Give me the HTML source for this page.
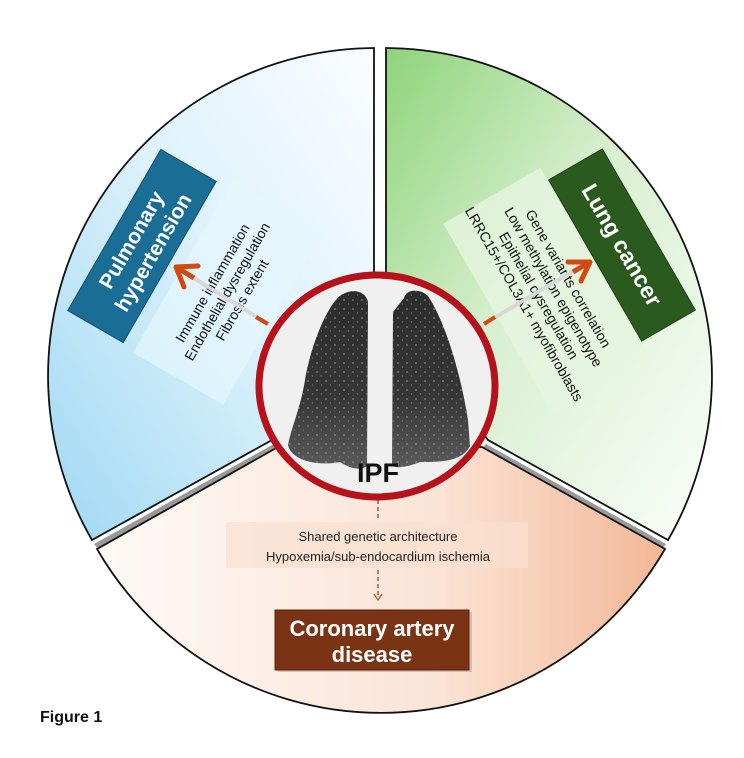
<!DOCTYPE html>
<html><head><meta charset="utf-8"><style>
html,body{margin:0;padding:0;background:#fff;width:744px;height:758px;overflow:hidden}
svg{display:block}
</style></head><body>
<svg width="744" height="758" viewBox="0 0 744 758" xmlns="http://www.w3.org/2000/svg">
<defs>
<linearGradient id="gb" x1="1" y1="0" x2="0" y2="1">
<stop offset="0" stop-color="#fbfdff"/><stop offset="0.45" stop-color="#def2fb"/><stop offset="1" stop-color="#9fd8f3"/></linearGradient>
<linearGradient id="gg" x1="0" y1="0" x2="1" y2="1">
<stop offset="0" stop-color="#8ed47a"/><stop offset="0.45" stop-color="#d8efd0"/><stop offset="1" stop-color="#fbfefa"/></linearGradient>
<linearGradient id="go" x1="0" y1="0" x2="1" y2="0">
<stop offset="0" stop-color="#fefaf7"/><stop offset="0.6" stop-color="#fbe3d6"/><stop offset="1" stop-color="#f3b796"/></linearGradient>
<linearGradient id="lung" x1="0" y1="0" x2="0" y2="1">
<stop offset="0" stop-color="#2c2c2c"/><stop offset="0.6" stop-color="#363636"/><stop offset="1" stop-color="#5a5a5a"/></linearGradient>
<pattern id="spk" width="9" height="9" patternUnits="userSpaceOnUse">
<circle cx="2" cy="3" r="0.9" fill="#bbb"/><circle cx="6.5" cy="7" r="0.7" fill="#999"/></pattern>
</defs>
<!-- shadows -->
<path d="M94,544 L274,444 L280,450 L99,550 Z" fill="#999"/>
<path d="M666,544 L486,444 L480,450 L661,550 Z" fill="#999"/>
<path d="M374,48 A328,328 0 0 0 92,540 L272,440 L374,300 Z" fill="url(#gb)" stroke="#111" stroke-width="1.8"/>
<path d="M386,48 A328,328 0 0 1 668,540 L488,440 L386,300 Z" fill="url(#gg)" stroke="#111" stroke-width="1.8"/>
<path d="M97,549 L278,447 L482,447 L665,549 A328,328 0 0 1 97,549 Z" fill="url(#go)" stroke="#111" stroke-width="1.8"/>

<g transform="translate(228,292) rotate(-60)">
<rect x="-100" y="-52" width="200" height="104" fill="#e6f6fd" opacity="0.7"/>
<g font-family="'Liberation Sans',sans-serif" font-size="14" fill="#111" text-anchor="middle">
<text x="0" y="-13">Immune inflammation</text>
<text x="0" y="4">Endothelial dysregulation</text>
<text x="0" y="21">Fibrosis extent</text>
</g></g>
<line x1="268" y1="324" x2="184" y2="272" stroke="#d8d8d8" stroke-width="4"/>
<line x1="268" y1="324" x2="256" y2="317" stroke="#d04a12" stroke-width="4"/>
<path d="M176,267 L198,266 M176,267 L184,287" stroke="#d04a12" stroke-width="5" fill="none" stroke-linecap="round"/>
<line x1="176" y1="267" x2="194" y2="278" stroke="#d04a12" stroke-width="5"/>

<g transform="translate(142,246) rotate(-60)">
<rect x="-93" y="-32" width="186" height="64" fill="#1a6e96" stroke="#0e4e6c" stroke-width="1"/>
<g font-family="'Liberation Sans',sans-serif" font-size="21" font-weight="bold" fill="#fff" text-anchor="middle">
<text x="0" y="-5">Pulmonary</text>
<text x="0" y="20">hypertension</text>
</g></g>

<g transform="translate(545,292) rotate(60)">
<rect x="-110" y="-58" width="220" height="112" fill="#e6f5e0" opacity="0.8"/>
<g font-family="'Liberation Sans',sans-serif" font-size="14" fill="#111" text-anchor="middle">
<text x="0" y="-22">Gene variants correlation</text>
<text x="0" y="-5">Low methylation epigenotype</text>
<text x="0" y="12">Epithelial dysregulation</text>
<text x="0" y="29">LRRC15+/COL3A1+ myofibroblasts</text>
</g></g>
<line x1="484" y1="324" x2="578" y2="268" stroke="#d8d8d8" stroke-width="4"/>
<line x1="484" y1="324" x2="495" y2="317" stroke="#d04a12" stroke-width="4"/>
<path d="M590,262 L568,262 M590,262 L581,281" stroke="#d04a12" stroke-width="5" fill="none" stroke-linecap="round"/>
<line x1="590" y1="262" x2="573" y2="272" stroke="#d04a12" stroke-width="5"/>

<g transform="translate(622,245) rotate(60)">
<rect x="-93" y="-31" width="186" height="62" fill="#2b5a1e" stroke="#1d3f14" stroke-width="1"/>
<text x="0" y="8" font-family="'Liberation Sans',sans-serif" font-size="23" font-weight="bold" fill="#fff" text-anchor="middle">Lung cancer</text>
</g>

<rect x="226" y="522" width="302" height="46" fill="#f9dfd0" opacity="0.7"/>
<g font-family="'Liberation Sans',sans-serif" font-size="13" fill="#222" text-anchor="middle">
<text x="378" y="541">Shared genetic architecture</text>
<text x="378" y="561">Hypoxemia/sub-endocardium ischemia</text>
</g>
<line x1="378" y1="500" x2="378" y2="520" stroke="#c0502a" stroke-width="1.5" stroke-dasharray="4,3"/>
<line x1="378" y1="570" x2="378" y2="598" stroke="#c0502a" stroke-width="1.5" stroke-dasharray="4,3"/>
<path d="M374,594 L378,600 L382,594" stroke="#c0502a" stroke-width="1.3" fill="none"/>

<rect x="278" y="612" width="194" height="60" fill="#b0a090" opacity="0.5"/>
<rect x="275" y="610" width="194" height="60" fill="#7a3414" stroke="#5a230c" stroke-width="1"/>
<g font-family="'Liberation Sans',sans-serif" font-size="22" font-weight="bold" fill="#fff" text-anchor="middle">
<text x="372" y="636">Coronary artery</text>
<text x="372" y="662">disease</text>
</g>

<ellipse cx="377" cy="386" rx="118" ry="111" fill="#f0f0f0"/>
<path d="M343,294 C330,300 312,340 305,380 C300,410 292,425 288,445 C292,462 320,466 340,462 C352,470 362,470 367,466 L368,302 C366,292 354,288 343,294 Z" fill="url(#lung)"/>
<path d="M404,298 C406,289 420,288 428,296 C445,322 460,370 468,420 L470,446 C462,462 440,462 420,462 C405,468 396,468 392,466 L393,312 Z" fill="url(#lung)"/>
<path d="M343,294 C330,300 312,340 305,380 C300,410 292,425 288,445 C292,462 320,466 340,462 C352,470 362,470 367,466 L368,302 C366,292 354,288 343,294 Z" fill="url(#spk)" opacity="0.6"/>
<path d="M404,298 C406,289 420,288 428,296 C445,322 460,370 468,420 L470,446 C462,462 440,462 420,462 C405,468 396,468 392,466 L393,312 Z" fill="url(#spk)" opacity="0.6"/>
<ellipse cx="377" cy="386" rx="118" ry="111" fill="none" stroke="#b5121b" stroke-width="7"/>
<text x="378" y="482" font-family="'Liberation Sans',sans-serif" font-size="27" font-weight="bold" fill="#111" text-anchor="middle">IPF</text>

<text x="40" y="722" font-family="'Liberation Sans',sans-serif" font-size="16" font-weight="bold" fill="#111">Figure 1</text>
</svg>
</body></html>
